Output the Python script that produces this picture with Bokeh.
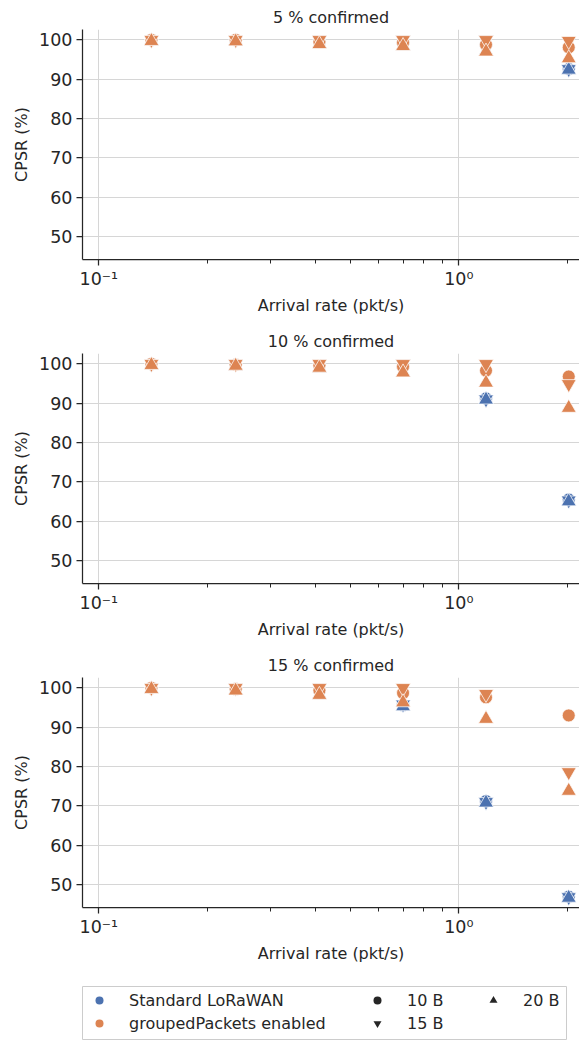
from bokeh.plotting import figure
from bokeh.models import (Range1d, FixedTicker, CustomJSTickFormatter,
                          ColumnDataSource, Legend, LegendItem)
from bokeh.layouts import column
from bokeh.embed import file_html
from bokeh.resources import INLINE

# ---------------- data ----------------
rates = [0.14, 0.24, 0.41, 0.70, 1.19, 2.02]
panel_titles = ["5 % confirmed", "10 % confirmed", "15 % confirmed"]
groups = ["Standard LoRaWAN", "groupedPackets enabled"]
payloads = ["10 B", "15 B", "20 B"]

# 5 % confirmed
std_5_10B = [100.0, 100.0, 99.5, 99.3, 98.8, 92.6]
std_5_15B = [100.0, 100.0, 100.0, 100.0, 100.0, 92.6]
std_5_20B = [99.7, 99.6, 98.9, 98.4, 97.0, 92.4]
grp_5_10B = [100.0, 100.0, 99.5, 99.3, 98.8, 98.1]
grp_5_15B = [100.0, 100.0, 100.0, 100.0, 100.0, 99.8]
grp_5_20B = [99.7, 99.6, 98.9, 98.4, 97.0, 95.3]

# 10 % confirmed
std_10_10B = [100.0, 99.8, 99.6, 99.3, 91.2, 65.5]
std_10_15B = [100.0, 100.0, 100.0, 100.0, 91.0, 65.3]
std_10_20B = [99.7, 99.5, 99.0, 97.8, 90.9, 65.0]
grp_10_10B = [100.0, 99.8, 99.6, 99.3, 98.3, 96.8]
grp_10_15B = [100.0, 100.0, 100.0, 100.0, 100.0, 94.9]
grp_10_20B = [99.7, 99.5, 99.0, 97.8, 95.2, 88.8]

# 15 % confirmed
std_15_10B = [100.0, 99.7, 99.4, 95.6, 71.2, 46.9]
std_15_15B = [100.0, 100.0, 100.0, 95.8, 71.0, 46.8]
std_15_20B = [99.7, 99.3, 98.2, 95.3, 70.8, 46.6]
grp_15_10B = [100.0, 99.7, 99.4, 98.7, 97.6, 93.0]
grp_15_15B = [100.0, 100.0, 100.0, 100.0, 98.5, 78.6]
grp_15_20B = [99.7, 99.3, 98.2, 96.3, 92.1, 73.8]

y_ticks = [50, 60, 70, 80, 90, 100]
x_major = [0.1, 1.0]
x_minor = [0.2, 0.3, 0.4, 0.5, 0.6, 0.7, 0.8, 0.9, 2.0]

panels = [
    {("Standard LoRaWAN", "10 B"): std_5_10B, ("Standard LoRaWAN", "15 B"): std_5_15B,
     ("Standard LoRaWAN", "20 B"): std_5_20B, ("groupedPackets enabled", "10 B"): grp_5_10B,
     ("groupedPackets enabled", "15 B"): grp_5_15B, ("groupedPackets enabled", "20 B"): grp_5_20B},
    {("Standard LoRaWAN", "10 B"): std_10_10B, ("Standard LoRaWAN", "15 B"): std_10_15B,
     ("Standard LoRaWAN", "20 B"): std_10_20B, ("groupedPackets enabled", "10 B"): grp_10_10B,
     ("groupedPackets enabled", "15 B"): grp_10_15B, ("groupedPackets enabled", "20 B"): grp_10_20B},
    {("Standard LoRaWAN", "10 B"): std_15_10B, ("Standard LoRaWAN", "15 B"): std_15_15B,
     ("Standard LoRaWAN", "20 B"): std_15_20B, ("groupedPackets enabled", "10 B"): grp_15_10B,
     ("groupedPackets enabled", "15 B"): grp_15_15B, ("groupedPackets enabled", "20 B"): grp_15_20B},
]

# ---------------- style ----------------
FONT = "DejaVu Sans"
TXT = "#262626"
colors = {"Standard LoRaWAN": "#4c72b0", "groupedPackets enabled": "#dd8452"}
markers = {"10 B": "circle", "15 B": "inverted_triangle", "20 B": "triangle"}
msize = {"10 B": 13, "15 B": 15, "20 B": 15}
GRID = "#d6d6d6"

sup_code = """
const e = Math.round(Math.log10(tick));
const m = {"-": "\u207b", "0": "\u2070", "1": "\u00b9", "2": "\u00b2", "3": "\u00b3"};
return "10" + String(e).split("").map(c => m[c]).join("");
"""

figs = []
for title, pdata in zip(panel_titles, panels):
    p = figure(frame_width=497, frame_height=230, x_axis_type="log",
               x_range=Range1d(0.0901, 2.164), y_range=Range1d(44.15, 102.65),
               output_backend="svg", toolbar_location=None, title=title,
               min_border_left=82, min_border_right=0, min_border_top=29,
               min_border_bottom=65)
    p.outline_line_color = None
    p.background_fill_color = "white"
    p.border_fill_color = "white"
    p.title.text_font = FONT
    p.title.text_font_size = "16px"
    p.title.text_font_style = "normal"
    p.title.text_color = TXT
    p.title.align = "center"
    p.title.standoff = 5

    p.xaxis.ticker = FixedTicker(ticks=x_major, minor_ticks=x_minor)
    p.xaxis.formatter = CustomJSTickFormatter(code=sup_code)
    p.yaxis.ticker = FixedTicker(ticks=y_ticks)
    p.xaxis.axis_label = "Arrival rate (pkt/s)"
    p.yaxis.axis_label = "CPSR (%)"
    for ax in (p.xaxis, p.yaxis):
        ax.axis_label_text_font = FONT
        ax.axis_label_text_font_size = "16px"
        ax.axis_label_text_font_style = "normal"
        ax.axis_label_text_color = TXT
        ax.major_label_text_font = FONT
        ax.major_label_text_font_size = "17.5px"
        ax.major_label_text_color = TXT
        ax.axis_line_color = TXT
        ax.axis_line_width = 1.25
        ax.major_tick_line_color = TXT
        ax.major_tick_line_width = 1.25
        ax.minor_tick_line_color = TXT
        ax.minor_tick_line_width = 1.0
        ax.major_tick_out = 6
        ax.major_tick_in = 0
        ax.minor_tick_out = 4
        ax.minor_tick_in = 0
    p.yaxis.minor_tick_line_color = None
    p.yaxis.major_label_standoff = 4
    p.xaxis.major_label_standoff = 3
    p.xaxis.axis_label_standoff = 4
    p.yaxis.axis_label_standoff = 5
    p.xgrid.grid_line_color = GRID
    p.ygrid.grid_line_color = GRID
    p.ygrid.ticker = FixedTicker(ticks=y_ticks)

    for g in groups:
        for pl in payloads:
            src = ColumnDataSource(dict(x=rates, y=pdata[(g, pl)]))
            p.scatter(x="x", y="y", source=src, marker=markers[pl], size=msize[pl],
                      fill_color=colors[g], line_color="white", line_width=0.75)
    figs.append(p)

# ---------------- legend ----------------
lf = figure(width=579, height=68, x_range=Range1d(0, 1), y_range=Range1d(0, 1),
            output_backend="svg", toolbar_location=None,
            x_axis_location=None, y_axis_location=None,
            min_border_left=76, min_border_right=13, min_border_top=14,
            min_border_bottom=1)
lf.grid.visible = False
lf.outline_line_color = "#cccccc"
lf.outline_line_width = 1

# legend stubs sit outside the visible range; only their legend glyphs show
hue_r = [lf.scatter(x=[5], y=[5], marker="circle", size=7, fill_color=colors[g],
                    line_color=None) for g in groups]
size_r = [lf.scatter(x=[5], y=[5], marker=markers[pl], size=8 if pl != "10 B" else 7,
                     fill_color=TXT, line_color=None) for pl in payloads]


def make_legend(labels, rends, loc):
    leg = Legend(items=[LegendItem(label=l, renderers=[r]) for l, r in zip(labels, rends)],
                 location=loc, orientation="vertical", glyph_width=20, glyph_height=20,
                 label_height=20, label_standoff=20, spacing=3, padding=0, margin=0,
                 border_line_color=None, background_fill_alpha=0,
                 label_text_font=FONT, label_text_font_size="16px",
                 label_text_color=TXT)
    lf.add_layout(leg)


make_legend(groups, hue_r, (7, 6))
make_legend(payloads[:2], size_r[:2], (285, 6))
make_legend(payloads[2:], size_r[2:], (401, 29))

layout = column(*figs, lf)
open("out.html", "w").write(file_html(layout, INLINE))
